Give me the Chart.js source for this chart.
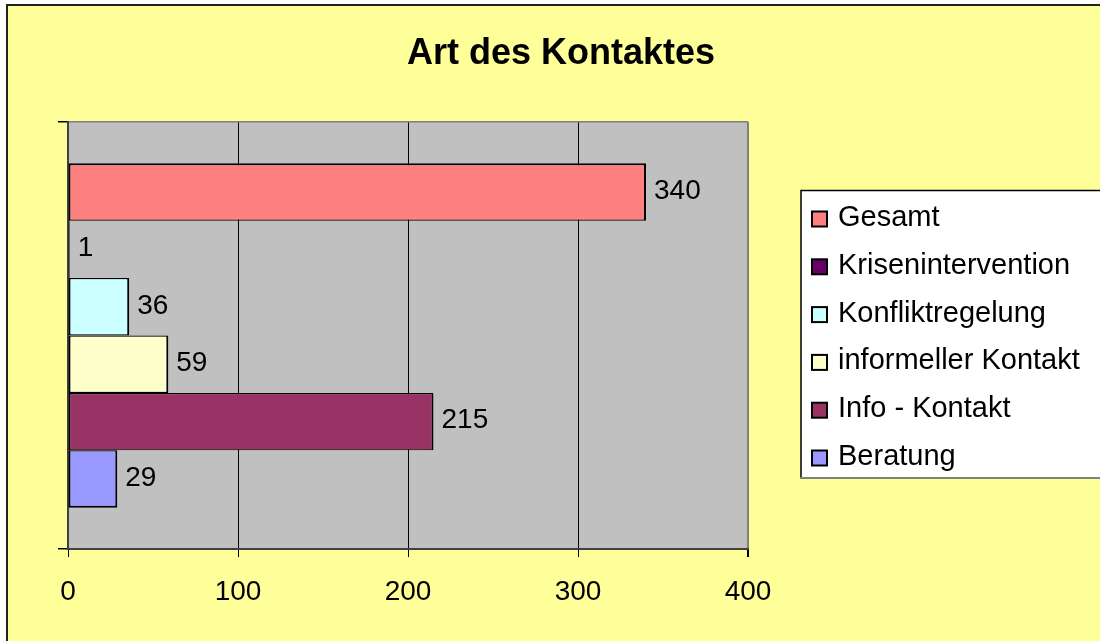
<!DOCTYPE html>
<html lang="de">
<head>
    <meta charset="UTF-8">
    <title>Art des Kontaktes</title>
    <script src="https://cdn.jsdelivr.net/npm/chart.js"></script>
    <style>
        body { margin: 0; background: #fff; }
        canvas { display: block; }
    </style>
</head>
<body>
    <canvas id="chart" width="1100" height="641"></canvas>
    <script>
        // Daten aus der Vorlage
        const chartTitle = "Art des Kontaktes";
        const categories = [""];
        const seriesNames = ["Gesamt", "Krisenintervention", "Konfliktregelung", "informeller Kontakt", "Info - Kontakt", "Beratung"];
        const seriesValues = [340, 1, 36, 59, 215, 29];
        const seriesColors = ["#FF8080", "#660066", "#CCFFFF", "#FFFFCC", "#993366", "#9999FF"];
        const xTicks = [0, 100, 200, 300, 400];

        const fontFamily = "Arial, 'Liberation Sans', sans-serif";

        // Hintergrund, Rahmen, Titel, Legende und Werte zeichnen
        const excelLook = {
            id: 'excelLook',
            beforeDraw(chart) {
                const ctx = chart.ctx;
                const a = chart.chartArea;
                ctx.save();
                ctx.fillStyle = '#FFFFFF';
                ctx.fillRect(0, 0, chart.width, chart.height);
                ctx.fillStyle = '#FFFF99';
                ctx.fillRect(8, 6, chart.width, chart.height);
                ctx.strokeStyle = '#222';
                ctx.lineWidth = 2;
                ctx.beginPath();
                ctx.moveTo(7, chart.height + 5); ctx.lineTo(7, 5); ctx.lineTo(chart.width + 5, 5);
                ctx.stroke();
                ctx.fillStyle = '#C0C0C0';
                ctx.fillRect(a.left, a.top, a.right - a.left, a.bottom - a.top);
                ctx.restore();
            },
            afterDatasetsDraw(chart) {
                const ctx = chart.ctx;
                ctx.save();
                ctx.font = "28px " + fontFamily;
                ctx.fillStyle = '#000';
                ctx.textBaseline = 'middle';
                ctx.textAlign = 'left';
                chart.data.datasets.forEach((ds, i) => {
                    const bar = chart.getDatasetMeta(i).data[0];
                    ctx.fillText(String(ds.data[0]), bar.x + 8, bar.y - 1);
                });
                ctx.restore();
            },
            afterDraw(chart) {
                const ctx = chart.ctx;
                ctx.save();
                // Titel
                ctx.font = "bold 36px " + fontFamily;
                ctx.fillStyle = '#000';
                ctx.textAlign = 'center';
                ctx.textBaseline = 'alphabetic';
                ctx.fillText(chartTitle, 561, 64);

                // Legende
                ctx.fillStyle = '#FFFFFF';
                ctx.fillRect(801, 190, 320, 288);
                ctx.lineWidth = 1.5;
                ctx.strokeStyle = '#000';
                ctx.beginPath();
                ctx.moveTo(801, 478); ctx.lineTo(801, 190.5); ctx.lineTo(1110, 190.5);
                ctx.stroke();
                ctx.strokeStyle = '#808080';
                ctx.lineWidth = 2;
                ctx.beginPath();
                ctx.moveTo(800, 478); ctx.lineTo(1110, 478);
                ctx.stroke();

                ctx.font = "29px " + fontFamily;
                ctx.textAlign = 'left';
                chart.data.datasets.forEach((ds, i) => {
                    const cy = 219 + i * 47.8;
                    ctx.fillStyle = ds.backgroundColor;
                    ctx.fillRect(812, cy - 7.5, 15, 15);
                    ctx.strokeStyle = '#000';
                    ctx.lineWidth = 2;
                    ctx.strokeRect(812, cy - 7.5, 15, 15);
                    ctx.fillStyle = '#000';
                    ctx.fillText(ds.label, 838, cy + 7);
                });
                ctx.restore();
            }
        };

        const last = seriesNames.length - 1;
        const datasets = seriesNames.map((name, i) => ({
            label: name,
            data: [seriesValues[i]],
            backgroundColor: seriesColors[i],
            borderColor: '#000',
            borderWidth: { left: 2, right: 2, top: i === 0 ? 2 : 1.2, bottom: i === last ? 2 : 1.2 },
            borderSkipped: false
        }));

        new Chart(document.getElementById('chart'), {
            type: 'bar',
            data: { labels: categories, datasets: datasets },
            options: {
                indexAxis: 'y',
                responsive: false,
                animation: false,
                devicePixelRatio: 1,
                categoryPercentage: 0.807,
                barPercentage: 1,
                layout: { padding: { left: 58, right: 352, top: 122, bottom: 0 } },
                plugins: {
                    legend: { display: false },
                    title: { display: false },
                    tooltip: { enabled: false }
                },
                scales: {
                    x: {
                        min: xTicks[0],
                        max: xTicks[xTicks.length - 1],
                        afterBuildTicks: (scale) => { scale.ticks = xTicks.map(v => ({ value: v })); },
                        afterFit: (scale) => { scale.height = 92; },
                        ticks: {
                            color: '#000',
                            font: { size: 28, family: fontFamily },
                            padding: 18,
                            maxRotation: 0
                        },
                        grid: {
                            color: (c) => c.tick && c.tick.value === 400 ? '#808080' : '#000',
                            lineWidth: (c) => c.tick && c.tick.value === 400 ? 2 : 1,
                            tickColor: '#000',
                            tickLength: 8
                        },
                        border: { color: '#404040', width: 2 }
                    },
                    y: {
                        type: 'category',
                        afterFit: (scale) => { scale.width = 10; },
                        ticks: { display: false },
                        grid: {
                            offset: true,
                            color: '#808080',
                            lineWidth: 1.5,
                            tickColor: '#000',
                            tickLength: 10
                        },
                        border: { color: '#404040', width: 2 }
                    }
                }
            },
            plugins: [excelLook]
        });
    </script>
</body>
</html>
